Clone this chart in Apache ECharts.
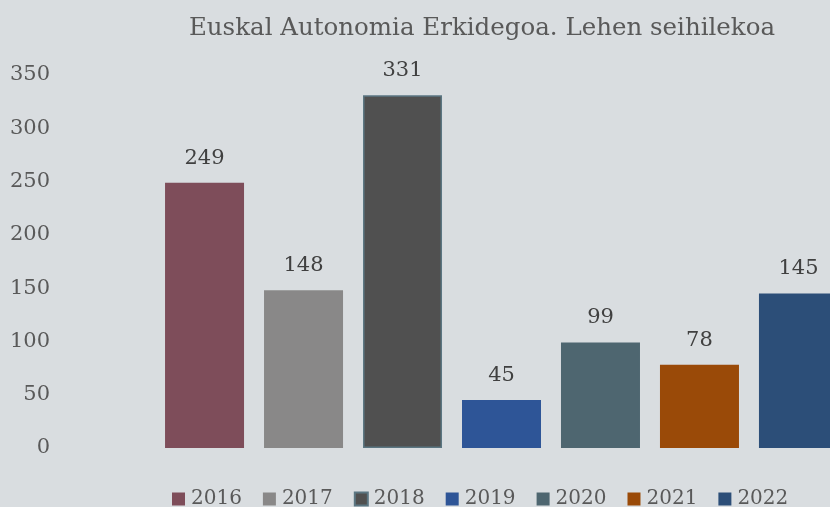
<!DOCTYPE html>
<html>
<head>
<meta charset="utf-8">
<script src="https://cdn.jsdelivr.net/npm/echarts@6/dist/echarts.min.js"></script>
<style>
  html, body { margin: 0; padding: 0; background: #d9dde0; }
  #chart { width: 830px; height: 507px; }
</style>
</head>
<body>
<div id="chart"></div>
<script>
// years shown in the legend, one series per year
const years = ['2016', '2017', '2018', '2019', '2020', '2021', '2022'];
const values = [249, 148, 331, 45, 99, 78, 145];
const colors = ['#7e4d5a', '#898888', '#505050', '#2e5597', '#4e6670', '#9a4a08', '#2c4e78'];
const yTicks = { min: 0, max: 350, interval: 50 };

const font = 'DejaVu Serif';

const chart = echarts.init(document.getElementById('chart'));

const series = years.map((y, i) => ({
  name: y,
  type: 'bar',
  data: [values[i]],
  barWidth: 79,
  barGap: '25.3%',
  itemStyle: {
    color: colors[i],
    borderColor: y === '2018' ? '#5b7682' : colors[i],
    borderWidth: y === '2018' ? 1.5 : 0
  },
  label: {
    show: true,
    position: 'top',
    distance: 14,
    color: '#404040',
    fontFamily: font,
    fontSize: 21
  }
}));

chart.setOption({
  backgroundColor: '#d9dde0',
  animation: false,
  title: {
    text: 'Euskal Autonomia Erkidegoa. Lehen seihilekoa',
    left: 477,
    textAlign: 'center',
    top: 11,
    textStyle: {
      color: '#595959',
      fontFamily: font,
      fontWeight: 'normal',
      fontSize: 24.5
    }
  },
  legend: {
    data: years,
    left: 167,
    top: 484,
    itemWidth: 13,
    itemHeight: 13,
    itemGap: 21,
    icon: 'rect',
    textStyle: {
      color: '#595959',
      fontFamily: font,
      fontSize: 20,
      padding: [0, 0, 0, 1]
    }
  },
  grid: {
    left: 105,
    top: 75,
    bottom: 59,
    width: 793,
    containLabel: false,
    outerBoundsMode: 'none'
  },
  xAxis: {
    type: 'category',
    data: [''],
    axisLine: { show: false },
    axisTick: { show: false },
    axisLabel: { show: false }
  },
  yAxis: {
    type: 'value',
    min: yTicks.min,
    max: yTicks.max,
    interval: yTicks.interval,
    splitLine: { show: false },
    axisLine: { show: false },
    axisTick: { show: false },
    axisLabel: {
      margin: 55,
      color: '#595959',
      fontFamily: font,
      fontSize: 21
    }
  },
  series: series
});
</script>
</body>
</html>
